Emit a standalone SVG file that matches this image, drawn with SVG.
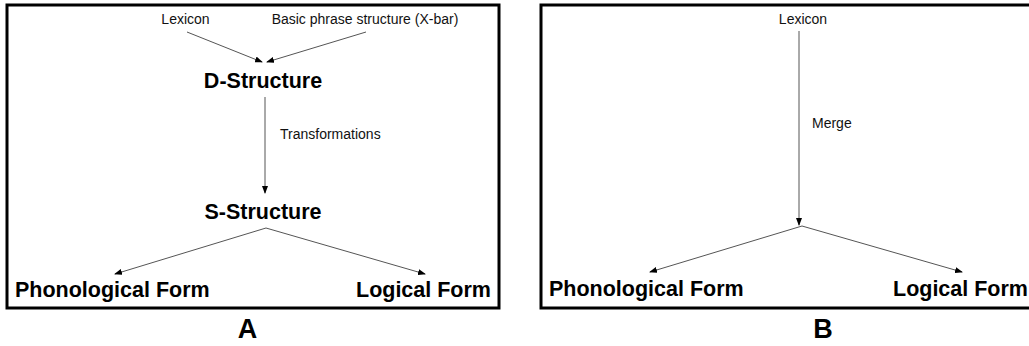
<svg xmlns="http://www.w3.org/2000/svg" width="1029" height="346" viewBox="0 0 1029 346">
<style>
.frame{fill:#fff;stroke:#000;stroke-width:3}
.lbl{font-family:"Liberation Sans",Arial,sans-serif;font-size:14px;fill:#111}
.big{font-family:"Liberation Sans",Arial,sans-serif;font-size:21.5px;font-weight:bold;fill:#000}
.cap{font-family:"Liberation Sans",Arial,sans-serif;font-size:27px;font-weight:bold;fill:#000}
.edge{stroke:#555;stroke-width:1;fill:none;marker-end:url(#ah)}
.plain{stroke:#555;stroke-width:1;fill:none}
</style>
<defs>
<marker id="ah" markerWidth="8" markerHeight="6" refX="7" refY="3" orient="auto" markerUnits="userSpaceOnUse">
<path d="M0,0 L8,3 L0,6 Z" fill="#000"/>
</marker>
</defs>
<rect width="1029" height="346" fill="#fff"/>
<rect class="frame" x="7" y="5" width="492" height="303"/>
<rect class="frame" x="541" y="5" width="500" height="303"/>
<g id="connectors">
<line class="edge" x1="187" y1="32" x2="262" y2="62"/>
<line class="edge" x1="366" y1="32" x2="267" y2="62"/>
<line class="edge" x1="265" y1="97" x2="265" y2="193"/>
<line class="edge" x1="266" y1="228" x2="115" y2="274"/>
<line class="edge" x1="266" y1="228" x2="425" y2="274"/>
<line class="edge" x1="799" y1="31" x2="799" y2="225"/>
<line class="edge" x1="802" y1="226" x2="650" y2="272"/>
<line class="edge" x1="802" y1="226" x2="962" y2="272"/>
</g>
<g id="a-lexicon"><text class="lbl" x="185.5" y="24" text-anchor="middle">Lexicon</text></g>
<g id="a-xbar"><text class="lbl" x="365" y="24" text-anchor="middle">Basic phrase structure (X-bar)</text></g>
<g id="a-dstructure"><text class="big" x="263" y="88" text-anchor="middle">D-Structure</text></g>
<g id="a-transformations"><text class="lbl" x="280" y="139">Transformations</text></g>
<g id="a-sstructure"><text class="big" x="263" y="219" text-anchor="middle">S-Structure</text></g>
<g id="a-pf"><text class="big" x="15" y="297">Phonological Form</text></g>
<g id="a-lf"><text class="big" x="423.5" y="297" text-anchor="middle">Logical Form</text></g>
<g id="label-a"><text class="cap" x="247.5" y="338" text-anchor="middle">A</text></g>
<g id="b-lexicon"><text class="lbl" x="803" y="24" text-anchor="middle">Lexicon</text></g>
<g id="b-merge"><text class="lbl" x="812" y="128">Merge</text></g>
<g id="b-pf"><text class="big" x="549" y="296">Phonological Form</text></g>
<g id="b-lf"><text class="big" x="893" y="296">Logical Form</text></g>
<g id="label-b"><text class="cap" x="823" y="338" text-anchor="middle">B</text></g>
</svg>
